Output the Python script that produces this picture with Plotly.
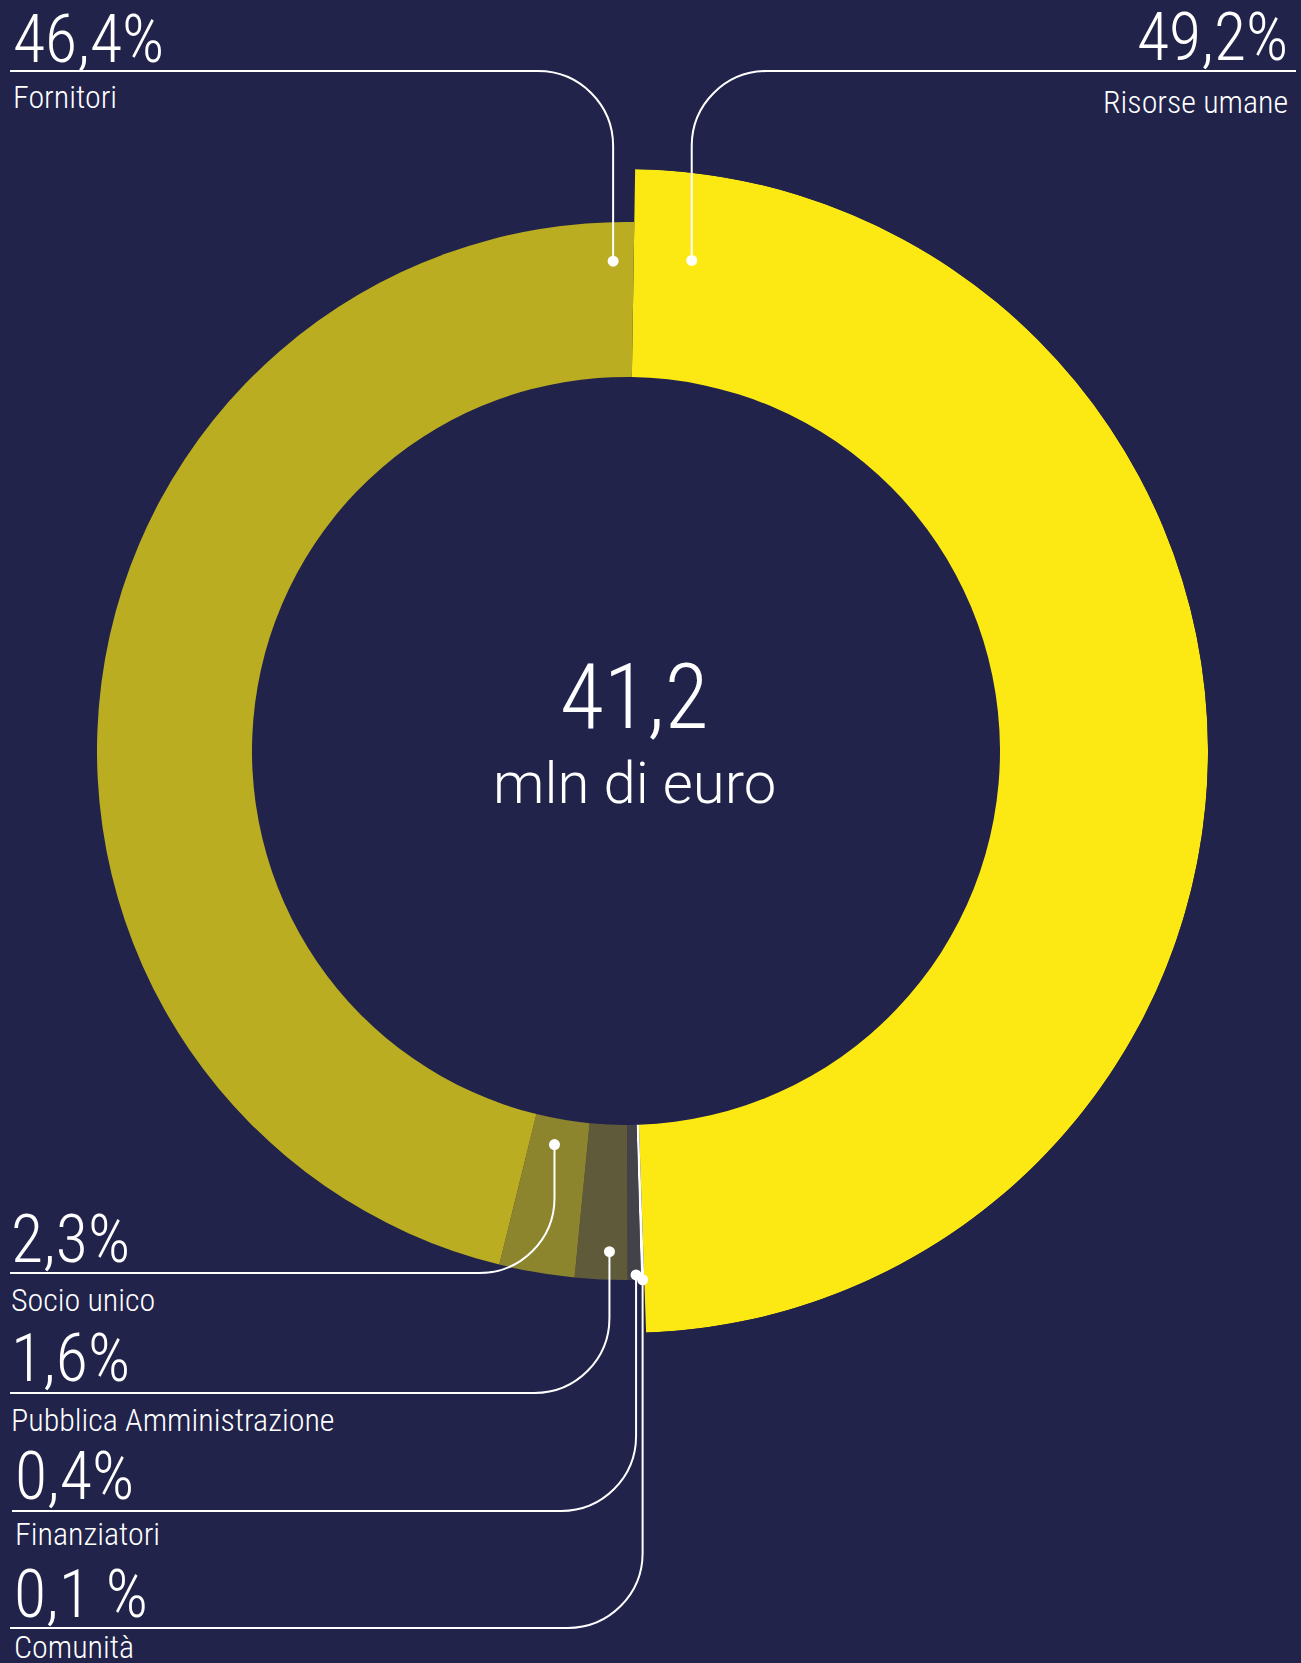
import numpy as np
import plotly.graph_objects as go

# ── data: distribuzione del valore (41,2 mln di euro) ─────────────────────────
categories = ["Risorse umane", "Comunità", "Finanziatori",
              "Pubblica Amministrazione", "Socio unico", "Fornitori"]
shares = [49.2, 0.1, 0.4, 1.6, 2.3, 46.4]
share_labels = ["49,2%", "0,1 %", "0,4%", "1,6%", "2,3%", "46,4%"]
total_label = "41,2"
total_unit = "mln di euro"
colors = ["#fce914", "#ffffff", "#434249", "#5f5b3a", "#8d842e", "#baad21"]

# ── geometry (pixels) ────────────────────────────────────────────────────────
W, H = 1301, 1663
CX, CY = 626, 751
R_IN, R_OUT, R_BIG = 374, 529, 582
START = 0.9                      # first slice starts just right of 12 o'clock
BG = "#22234b"
LABEL_FONT = "Roboto Condensed, Liberation Sans Narrow, Roboto"

widths = np.array(shares) / 100 * 360
starts = START + np.concatenate([[0], np.cumsum(widths)[:-1]])
mids = starts + widths / 2
outer = [R_BIG if c == "Risorse umane" else R_OUT for c in categories]

# leader style per slice: (position inside slice 0..1, dot radius, line y,
#                          line end x, pct label y, name label y, label x, side)
LEADERS = {
    "Risorse umane":            (0.038, 495, 71,   1296, 38,   102,  1290, "right"),
    "Comunità":                 (0.5,   529, 1628, 10,   1594, 1647, 12,   "left"),
    "Finanziatori":             (0.36,  524, 1511, 12,   1476, 1534, 13,   "left"),
    "Pubblica Amministrazione": (0.36,  501, 1393, 10,   1358, 1420, 9,    "left"),
    "Socio unico":              (0.57,  400, 1273, 10,   1239, 1300, 9,    "left"),
    "Fornitori":                (0.9856, 490, 71,  10,   40,   97,   11,   "left"),
}


def px(x, y):
    return x / W, 1 - y / H


def polar_xy(r, theta):
    t = np.radians(theta)
    return CX + r * np.sin(t), CY - r * np.cos(t)


def leader_path(dx, dy, ly, x_end, rad=75):
    sy = 1 if ly > dy else -1
    sx = 1 if x_end > dx else -1
    k = 0.5523 * rad
    pts = [("M", [(dx, dy)]),
           ("L", [(dx, ly - sy * rad)]),
           ("C", [(dx, ly - sy * (rad - k)), (dx + sx * (rad - k), ly), (dx + sx * rad, ly)]),
           ("L", [(x_end, ly)])]
    out = []
    for cmd, coords in pts:
        s = " ".join(f"{px(x, y)[0]:.5f},{px(x, y)[1]:.5f}" for x, y in coords)
        out.append(f"{cmd} {s}")
    return " ".join(out)


fig = go.Figure()

# donut slices
fig.add_trace(go.Barpolar(
    theta=mids, width=widths,
    base=[R_IN] * len(categories),
    r=[o - R_IN for o in outer],
    marker=dict(color=colors, line=dict(width=0)),
    text=categories, hoverinfo="text",
    showlegend=False,
))

# leader dots
dot_r, dot_t = [], []
for i, c in enumerate(categories):
    frac, rr = LEADERS[c][0], LEADERS[c][1]
    dot_r.append(rr)
    dot_t.append(starts[i] + frac * widths[i])

fig.add_trace(go.Scatterpolar(
    r=dot_r, theta=dot_t, mode="markers",
    marker=dict(color="white", size=11),
    hoverinfo="skip", showlegend=False,
))

# leader lines + labels
for i, c in enumerate(categories):
    _, rr, ly, x_end, y_pct, y_name, lx, side = LEADERS[c]
    dx, dy = polar_xy(rr, dot_t[i])
    fig.add_shape(type="path", xref="paper", yref="paper",
                  path=leader_path(dx, dy, ly, x_end),
                  line=dict(color="white", width=2))
    anchor = "right" if side == "right" else "left"
    x0, y0 = px(lx, y_pct)
    fig.add_annotation(x=x0, y=y0, xref="paper", yref="paper",
                       text=share_labels[i], showarrow=False,
                       xanchor=anchor, yanchor="middle",
                       font=dict(family=LABEL_FONT, size=66, color="white", weight=300))
    x1, y1 = px(lx, y_name)
    fig.add_annotation(x=x1, y=y1, xref="paper", yref="paper",
                       text=c, showarrow=False,
                       xanchor=anchor, yanchor="middle",
                       font=dict(family=LABEL_FONT, size=32, color="white", weight=300))

# centre total
cx_p, cy_p = px(634, 697)
fig.add_annotation(x=cx_p, y=cy_p, xref="paper", yref="paper",
                   text=total_label, showarrow=False,
                   xanchor="center", yanchor="middle",
                   font=dict(family="Roboto Condensed, Roboto", size=90, color="white", weight=300))
ux, uy = px(634, 783)
fig.add_annotation(x=ux, y=uy, xref="paper", yref="paper",
                   text=total_unit, showarrow=False,
                   xanchor="center", yanchor="middle",
                   font=dict(family="Roboto", size=58, color="white", weight=300))

fig.update_layout(
    width=W, height=H,
    margin=dict(l=0, r=0, t=0, b=0),
    paper_bgcolor=BG,
    plot_bgcolor=BG,
    polar=dict(
        domain=dict(x=[(CX - R_BIG) / W, (CX + R_BIG) / W],
                    y=[1 - (CY + R_BIG) / H, 1 - (CY - R_BIG) / H]),
        bgcolor=BG,
        bargap=0,
        radialaxis=dict(visible=False, range=[0, R_BIG]),
        angularaxis=dict(visible=False, direction="clockwise", rotation=90),
    ),
)

fig.write_html("out.html",
               config={"displayModeBar": False},
               post_script="document.body.style.margin='0';"
                           "document.body.style.background='" + BG + "';")
